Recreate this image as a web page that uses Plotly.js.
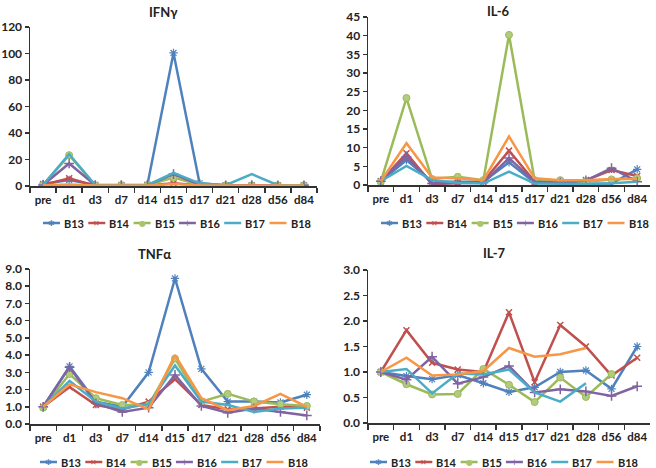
<!DOCTYPE html>
<html>
<head>
<meta charset="utf-8">
<script src="https://cdn.plot.ly/plotly-3.0.1.min.js"></script>
<style>html,body{margin:0;padding:0;background:#fff;}#chart{width:656px;height:468px;}</style>
</head>
<body>
<div id="chart"></div>
<script>
// ---- data ----
const categories = ['pre','d1','d3','d7','d14','d15','d17','d21','d28','d56','d84'];
const seriesNames = ['B13','B14','B15','B16','B17','B18'];
const seriesColors = ['#4F81BD','#C0504D','#9BBB59','#8064A2','#4BACC6','#F79646'];

const panelTitles = ['IFNγ','IL-6','TNFα','IL-7'];

// IFNγ
const ifng_B13 = [1.5, 4.5, 0.8, 0.8, 1.0, 100.4, 2.0, 0.6, 0.6, 0.6, 0.6];
const ifng_B14 = [0.8, 5.8, 0.3, 0.3, 0.3, 2.0, 0.5, 0.3, 0.3, 0.3, 0.3];
const ifng_B15 = [0.8, 23.3, 0.6, 0.6, 0.6, 6.3, 1.0, 0.5, 0.5, 0.5, 0.5];
const ifng_B16 = [0.8, 17.0, 0.6, 0.6, 0.6, 9.0, 1.0, 0.5, 0.6, 0.5, 0.5];
const ifng_B17 = [0.8, 24.0, 0.8, 0.6, 0.6, 10.0, 2.0, 0.6, 9.0, 0.6, 0.6];
const ifng_B18 = [0.5, 1.2, 0.3, 0.3, 0.3, 1.5, 0.5, 0.3, 0.3, 0.3, 0.3];

// IL-6
const il6_B13 = [1.0, 6.7, 0.9, 0.9, 0.9, 6.1, 0.6, 0.5, 0.3, 0.4, 4.2];
const il6_B14 = [1.0, 8.5, 0.2, 0.6, 0.9, 9.2, 0.9, 0.6, 1.3, 4.0, 2.4];
const il6_B15 = [0.9, 23.3, 1.6, 2.2, 1.3, 40.2, 1.3, 1.3, 0.9, 1.5, 1.8];
const il6_B16 = [1.0, 7.6, 0.4, 0.6, 0.6, 7.2, 0.9, 0.6, 1.2, 4.5, 0.9];
const il6_B17 = [1.0, 5.1, 1.3, 0.6, 0.4, 3.6, 0.4, 0.3, 0.3, 0.5, 0.9];
const il6_B18 = [1.0, 11.2, 2.0, 1.8, 1.3, 13.0, 1.8, 1.3, 1.3, 1.6, 1.6];

// TNFα
const tnfa_B13 = [1.0, 3.35, 1.3, 1.0, 3.0, 8.45, 3.2, 1.3, 1.3, 1.25, 1.7];
const tnfa_B14 = [1.0, 2.15, 1.1, 0.85, 1.3, 2.6, 1.1, 0.85, 0.9, 1.0, 0.95];
const tnfa_B15 = [0.95, 2.9, 1.5, 1.1, 1.1, 3.8, 1.3, 1.75, 1.3, 1.15, 1.05];
const tnfa_B16 = [1.0, 3.3, 1.2, 0.7, 0.95, 2.85, 1.05, 0.65, 0.9, 0.7, 0.5];
const tnfa_B17 = [1.0, 2.5, 1.3, 0.9, 1.15, 3.4, 1.3, 1.1, 0.7, 0.9, 0.95];
const tnfa_B18 = [1.0, 2.3, 1.85, 1.5, 0.85, 4.0, 1.5, 0.8, 1.05, 1.75, 1.0];

// IL-7
const il7_B13 = [1.0, 0.92, 0.86, 0.94, 0.78, 0.61, 0.70, 1.0, 1.03, 0.67, 1.5];
const il7_B14 = [1.0, 1.82, 1.18, 1.05, 1.0, 2.17, 0.8, 1.92, 1.5, 0.93, 1.28];
const il7_B15 = [1.0, 0.76, 0.56, 0.57, 1.06, 0.75, 0.41, 0.89, 0.51, 0.96, null];
const il7_B16 = [1.0, 0.85, 1.3, 0.77, 0.9, 1.12, 0.6, 0.66, 0.62, 0.53, 0.72];
const il7_B17 = [1.0, 1.06, 0.58, 0.97, 0.95, 1.05, 0.6, 0.42, 0.78, null, null];
const il7_B18 = [1.0, 1.28, 0.93, 0.95, 1.02, 1.47, 1.3, 1.35, 1.47, null, null];

const panelData = [
  [ifng_B13, ifng_B14, ifng_B15, ifng_B16, ifng_B17, ifng_B18],
  [il6_B13, il6_B14, il6_B15, il6_B16, il6_B17, il6_B18],
  [tnfa_B13, tnfa_B14, tnfa_B15, tnfa_B16, tnfa_B17, tnfa_B18],
  [il7_B13, il7_B14, il7_B15, il7_B16, il7_B17, il7_B18]
];

// ---- styles / layout ----
const W = 656, H = 468;
const FONT = 'Lato, "Open Sans", sans-serif';
const markerStyles = [
  {symbol:'asterisk-open', size:7, lw:1.2},
  {symbol:'x-thin-open', size:6, lw:1.5},
  {symbol:'circle', size:7, lw:1},
  {symbol:'cross-thin-open', size:7, lw:1.5},
  null,
  null
];
const legendGlyphs = ['✱','✕','●','+','',''];

// pixel boxes [x0,x1,yTop,yBottom]
const boxes = [[30,317,27,186],[368,650,17,185],[30,320,269,424],[368,650,270,423]];
const yRanges = [[0,120],[0,45],[0,9],[0,3]];
const yDticks = [20,5,1,0.5];
const yFormats = ['d','d','.1f','.1f'];
const titlePos = [[163,12],[498,11],[154,254],[495,253]];
const legendPos = [[43,223],[381,223],[40,462],[370,462]];
const legendStep = 45.3, legendLine = 17;

const traces = [];
const layout = {
  width: W, height: H,
  margin: {l:0, r:0, t:0, b:0},
  paper_bgcolor:'#fff', plot_bgcolor:'#fff',
  showlegend:false,
  font:{family:FONT, size:11, color:'#222'},
  annotations:[], shapes:[]
};

const xTickFont = {family:FONT, size:11.5, color:'#222', weight:'bold'};
const yTickFont = {family:FONT, size:12, color:'#222', weight:'bold'};

for (let p = 0; p < 4; p++) {
  const n = p === 0 ? '' : String(p+1);
  const b = boxes[p];
  layout['xaxis'+n] = {
    domain:[b[0]/W, b[1]/W], anchor:'y'+n, type:'category',
    range:[-0.5, 10.5], showline:true, linecolor:'#333', linewidth:1.5,
    ticks:'outside', tickson:'boundaries', ticklen:5, tickwidth:1.5, tickcolor:'#333',
    tickangle:0, automargin:false, ticklabelstandoff:3,
    showgrid:false, zeroline:false, tickfont:xTickFont, fixedrange:true
  };
  layout['yaxis'+n] = {
    domain:[1-b[3]/H, 1-b[2]/H], anchor:'x'+n,
    range:yRanges[p], dtick:yDticks[p], tick0:0, tickformat:yFormats[p],
    showline:true, linecolor:'#333', linewidth:1.5,
    ticks:'outside', ticklen:4, tickwidth:1.5, tickcolor:'#333', automargin:false,
    showgrid:false, zeroline:false, tickfont:yTickFont, fixedrange:true
  };
  layout.annotations.push({
    xref:'paper', yref:'paper', x:titlePos[p][0]/W, y:1-titlePos[p][1]/H,
    xanchor:'center', yanchor:'middle', showarrow:false, text:panelTitles[p],
    font:{family:FONT, size:13, color:'#222', weight:'bold'}
  });
  for (let s = 0; s < 6; s++) {
    const ms = markerStyles[s];
    const t = {
      x: categories, y: panelData[p][s], type:'scatter',
      xaxis:'x'+n, yaxis:'y'+n, name: seriesNames[s],
      mode: ms ? 'lines+markers' : 'lines',
      line:{color:seriesColors[s], width:2.5},
      connectgaps:false, hoverinfo:'skip'
    };
    if (ms) {
      t.marker = {symbol:ms.symbol, size:ms.size, color: s===2 ? '#B3CB7E' : seriesColors[s],
                  line:{color:seriesColors[s], width:ms.lw}};
    }
    traces.push(t);
    // legend entry
    const lx = legendPos[p][0] + s*legendStep, ly = legendPos[p][1];
    layout.shapes.push({type:'line', xref:'paper', yref:'paper',
      x0:lx/W, x1:(lx+legendLine)/W, y0:1-ly/H, y1:1-ly/H,
      line:{color:seriesColors[s], width:2.5}});
    if (legendGlyphs[s]) {
      layout.annotations.push({xref:'paper', yref:'paper', x:(lx+legendLine/2)/W, y:1-ly/H,
        xanchor:'center', yanchor:'middle', showarrow:false, text:legendGlyphs[s],
        font:{family:'DejaVu Sans', size:8, color: s===2 ? '#A9C46E' : seriesColors[s]}});
    }
    layout.annotations.push({xref:'paper', yref:'paper', x:(lx+legendLine+2)/W, y:1-ly/H,
      xanchor:'left', yanchor:'middle', showarrow:false, text:seriesNames[s],
      font:{family:FONT, size:11, color:'#222', weight:'bold'}});
  }
}

Plotly.newPlot('chart', traces, layout, {staticPlot:true, displayModeBar:false});
</script>
</body>
</html>
